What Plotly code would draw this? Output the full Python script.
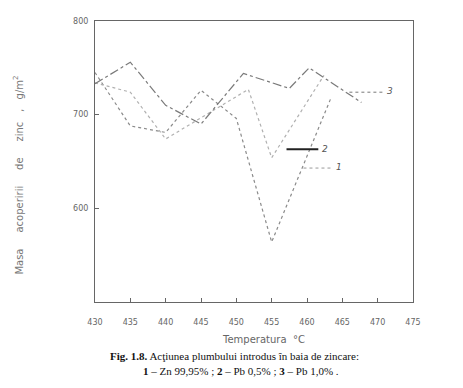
import plotly.graph_objects as go

# Series data (temperature °C, coating mass g/m²)
t1 = [430, 435, 440, 445, 450, 455, 463.4]
m1 = [745, 688, 681, 726, 696, 564, 718]

t2 = [430, 435, 440, 451.7, 455, 462.4]
m2 = [734, 724, 674, 727, 654, 742]

t3 = [430, 435, 440, 445, 451, 457.5, 460.3, 467.7]
m3 = [733, 756, 710, 690, 744, 728, 750, 713]

x_ticks = [430, 435, 440, 445, 450, 455, 460, 465, 470, 475]
y_ticks = [600, 700, 800]

fig = go.Figure()
fig.add_trace(go.Scatter(x=t1, y=m1, mode="lines", name="1",
                         line=dict(color="#8a8a8a", width=1.2, dash="dot")))
fig.add_trace(go.Scatter(x=t2, y=m2, mode="lines", name="2",
                         line=dict(color="#b0b0b0", width=1.2, dash="dot")))
fig.add_trace(go.Scatter(x=t3, y=m3, mode="lines", name="3",
                         line=dict(color="#7a7a7a", width=1.2, dash="dashdot")))

# leader lines for series labels
fig.add_shape(type="line", x0=466.0, x1=470.8, y0=724, y1=724,
              line=dict(color="#777", width=1, dash="dot"))
fig.add_shape(type="line", x0=457.1, x1=461.6, y0=663, y1=663,
              line=dict(color="#222", width=2))
fig.add_shape(type="line", x0=459.5, x1=463.7, y0=643, y1=643,
              line=dict(color="#999", width=1, dash="dot"))
for txt, xx, yy in [("3", 471.4, 725), ("2", 462.2, 663), ("1", 464.2, 644)]:
    fig.add_annotation(x=xx, y=yy, text="<i>" + txt + "</i>", showarrow=False,
                       xanchor="left", yanchor="middle", xshift=-3,
                       font=dict(family="DejaVu Sans", size=9, color="#555"))

axis_font = dict(family="DejaVu Sans", size=8, color="#666")
fig.update_xaxes(range=[430, 475], tickvals=x_ticks, ticks="inside", ticklen=4,
                 tickcolor="#666", showline=True, mirror=True, linecolor="#666",
                 linewidth=1, showgrid=False, zeroline=False, tickfont=axis_font,
                 ticklabelstandoff=12)
fig.update_yaxes(range=[500, 800], tickvals=y_ticks, ticks="inside", ticklen=4,
                 tickcolor="#666", showline=True, mirror=True, linecolor="#666",
                 linewidth=1, showgrid=False, zeroline=False, tickfont=axis_font,
                 ticklabelstandoff=4)

nb = "\u00a0"
ylab = ("Masa" + nb * 5 + "acoperirii" + nb * 5 + "de" + nb * 5 + "zinc" + nb * 3 + ","
        + nb * 3 + "g/m<sup>2</sup>")
fig.add_annotation(xref="paper", yref="paper", x=-0.242, y=0.45, text=ylab,
                   textangle=-90, showarrow=False, xanchor="center", yanchor="middle",
                   font=dict(family="DejaVu Sans", size=10, color="#777"))
fig.add_annotation(xref="paper", yref="paper", x=0.53, y=-0.135,
                   text="Temperatura" + nb * 2 + "°C", showarrow=False,
                   xanchor="center", yanchor="middle",
                   font=dict(family="DejaVu Sans", size=10, color="#666"))
fig.add_annotation(xref="paper", yref="paper", x=0.44, y=-0.164, yanchor="top",
                   text="<b>Fig. 1.8.</b> Acţiunea plumbului introdus în baia de zincare:",
                   showarrow=False,
                   font=dict(family="Liberation Serif", size=11, color="#111"))
fig.add_annotation(xref="paper", yref="paper", x=0.46, y=-0.217, yanchor="top",
                   text="<b>1</b> – Zn 99,95% ; <b>2</b> – Pb 0,5% ; <b>3</b> – Pb 1,0% .",
                   showarrow=False,
                   font=dict(family="Liberation Serif", size=11, color="#111"))

fig.update_layout(width=463, height=388, showlegend=False,
                  margin=dict(l=95, r=50, t=21, b=86),
                  plot_bgcolor="white", paper_bgcolor="white")
fig.write_html("out.html")
